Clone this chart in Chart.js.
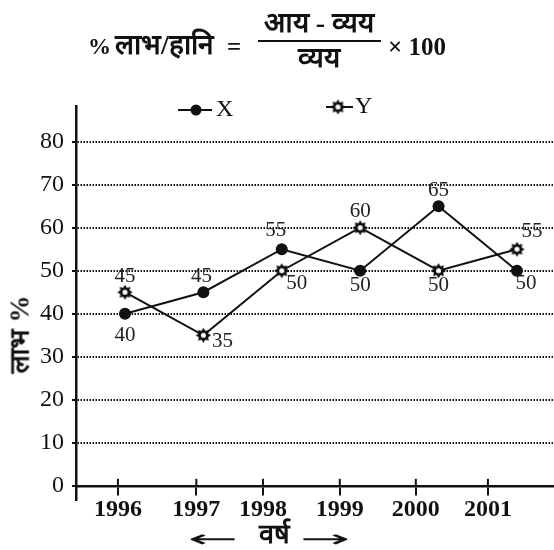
<!DOCTYPE html>
<html>
<head>
<meta charset="utf-8">
<script src="https://cdn.jsdelivr.net/npm/chart.js@4.4.0/dist/chart.umd.min.js"></script>
<style>
  body { margin: 0; background: #fff; }
  #wrap { position: relative; width: 554px; height: 550px; }
  #chart { position: absolute; left: 0; top: 0; }
  .t { position: absolute; font-family: "Liberation Serif", serif; font-weight: bold; color: #111; white-space: nowrap; line-height: 1; }
  .arrow { position: absolute; font-family: "DejaVu Sans", sans-serif; font-size: 24px; line-height: 1; color: #111; }
</style>
</head>
<body>
<div id="wrap">
  <canvas id="chart" width="554" height="550"></canvas>

  <!-- formula heading -->
  <div class="t" style="left:88px;top:35px;font-size:23px">%</div>
  <div class="t" style="left:115px;top:31px;font-size:28px">लाभ/हानि</div>
  <div class="t" style="left:227px;top:34px;font-size:25px">=</div>
  <div class="t" style="left:252px;top:9px;width:134px;text-align:center;font-size:28px">आय - व्यय</div>
  <div style="position:absolute;left:258px;top:40px;width:123px;height:2px;background:#111"></div>
  <div class="t" style="left:252px;top:44px;width:134px;text-align:center;font-size:28px">व्यय</div>
  <div class="t" style="left:388px;top:34px;font-size:25px">× 100</div>

  <!-- axis titles -->
  <div class="t" style="left:-30px;top:321px;width:100px;text-align:center;font-size:27px;transform:rotate(-90deg)">लाभ %</div>
  <div class="arrow" style="left:188px;top:527px;transform-origin:left center;transform:scaleX(2.5)">←</div>
  <div class="t" style="left:259px;top:521px;font-size:27px">वर्ष</div>
  <div class="arrow" style="left:300px;top:527px;transform-origin:left center;transform:scaleX(2.5)">→</div>
</div>

<script>
const years = ['1996', '1997', '1998', '1999', '2000', '2001'];
const seriesX = [40, 45, 55, 50, 65, 50];
const seriesY = [45, 35, 50, 60, 50, 55];
const yTicks = [0, 10, 20, 30, 40, 50, 60, 70, 80];

// where each value label sits relative to its point (px)
const labelOffsetX = [[0, 22], [-2, -16], [-6, -19], [0, 15], [0, -16], [9, 13]];
const labelOffsetY = [[0, -16], [19, 6], [15, 13], [0, -16], [0, 15], [15, -18]];
// in the source drawing the year ticks sit a bit left of the points
const tickShift = [-0.09, -0.09, -0.24, -0.26, -0.29, -0.37];

const ink = '#111';

// the hollow "sun" marker used for Y
function makeStar() {
    const c = document.createElement('canvas');
    c.width = 17; c.height = 17;
    const g = c.getContext('2d');
    g.translate(8.5, 8.5);
    g.fillStyle = ink;
    g.beginPath();
    for (let k = 0; k < 16; k++) {
        const r = k % 2 ? 5 : 7.6;
        const a = k * Math.PI / 8;
        g.lineTo(r * Math.cos(a), r * Math.sin(a));
    }
    g.closePath();
    g.fill();
    g.fillStyle = '#fff';
    g.beginPath();
    g.arc(0, 0, 2.5, 0, Math.PI * 2);
    g.fill();
    return c;
}
const star = makeStar();

// value labels next to each point
const valueLabels = {
    id: 'valueLabels',
    afterDatasetsDraw(chart) {
        const ctx = chart.ctx;
        ctx.save();
        ctx.font = '21px "Liberation Serif"';
        ctx.fillStyle = '#222';
        ctx.textAlign = 'center';
        ctx.textBaseline = 'middle';
        chart.data.datasets.forEach((ds, di) => {
            const offs = di === 0 ? labelOffsetX : labelOffsetY;
            chart.getDatasetMeta(di).data.forEach((pt, i) => {
                ctx.fillText(String(ds.data[i].y), pt.x + offs[i][0], pt.y + offs[i][1]);
            });
        });
        ctx.restore();
    }
};

// tick marks crossing the x axis, plus the line-style legend at the top
const extras = {
    id: 'extras',
    afterDraw(chart) {
        const ctx = chart.ctx;
        const xs = chart.scales.x, ys = chart.scales.y;
        const y0 = ys.getPixelForValue(0);
        ctx.save();
        ctx.strokeStyle = ink;
        ctx.lineWidth = 2;
        xs.ticks.forEach(t => {
            const px = xs.getPixelForValue(t.value);
            ctx.beginPath();
            ctx.moveTo(px, y0 - 7);
            ctx.lineTo(px, y0);
            ctx.stroke();
        });

        // legend
        ctx.font = '24px "Liberation Serif"';
        ctx.fillStyle = ink;
        ctx.textBaseline = 'middle';
        ctx.beginPath();
        ctx.moveTo(178, 110); ctx.lineTo(212, 110);
        ctx.stroke();
        ctx.beginPath();
        ctx.arc(196, 110, 5.5, 0, Math.PI * 2);
        ctx.fill();
        ctx.fillText('X', 216, 110);

        ctx.beginPath();
        ctx.moveTo(326, 107); ctx.lineTo(353, 107);
        ctx.stroke();
        ctx.drawImage(star, 338 - 8.5, 107 - 8.5);
        ctx.fillText('Y', 355, 107);
        ctx.restore();
    }
};

const ctx = document.getElementById('chart').getContext('2d');
new Chart(ctx, {
    type: 'line',
    data: {
        datasets: [{
            label: 'X',
            data: seriesX.map((v, i) => ({ x: i, y: v })),
            borderColor: ink,
            borderWidth: 2,
            pointStyle: 'circle',
            pointRadius: 6,
            pointBackgroundColor: ink,
            pointBorderWidth: 0,
            tension: 0
        }, {
            label: 'Y',
            data: seriesY.map((v, i) => ({ x: i, y: v })),
            borderColor: ink,
            borderWidth: 2,
            pointStyle: star,
            pointRadius: 8,
            tension: 0
        }]
    },
    options: {
        responsive: false,
        animation: false,
        layout: { autoPadding: false, padding: { left: 0, right: 1, top: 106, bottom: 50 } },
        plugins: { legend: { display: false }, tooltip: { enabled: false } },
        scales: {
            x: {
                type: 'linear',
                min: -0.625,
                max: 5.46,
                position: { y: 0 },
                afterBuildTicks: s => { s.ticks = years.map((_, i) => ({ value: i + tickShift[i] })); },
                afterFit: s => { s.paddingLeft = 0; s.paddingRight = 0; },
                ticks: {
                    callback: (v, i) => years[i],
                    autoSkip: false,
                    maxRotation: 0,
                    padding: 2,
                    color: ink,
                    font: { family: 'Liberation Serif', size: 24, weight: 'bold' }
                },
                grid: { drawOnChartArea: false, tickLength: 8, color: ink, lineWidth: 2 },
                border: { color: ink, width: 2.5 }
            },
            y: {
                min: -3.3,
                max: 88.3,
                afterBuildTicks: s => { s.ticks = yTicks.map(v => ({ value: v })); },
                afterFit: s => { s.width = 76; },
                ticks: {
                    padding: 8,
                    color: ink,
                    font: { family: 'Liberation Serif', size: 24 }
                },
                grid: { color: ink, lineWidth: 2, tickLength: 4 },
                border: { color: ink, width: 2.5, dash: [1.5, 1.5] }
            }
        }
    },
    plugins: [valueLabels, extras]
});
</script>
</body>
</html>
